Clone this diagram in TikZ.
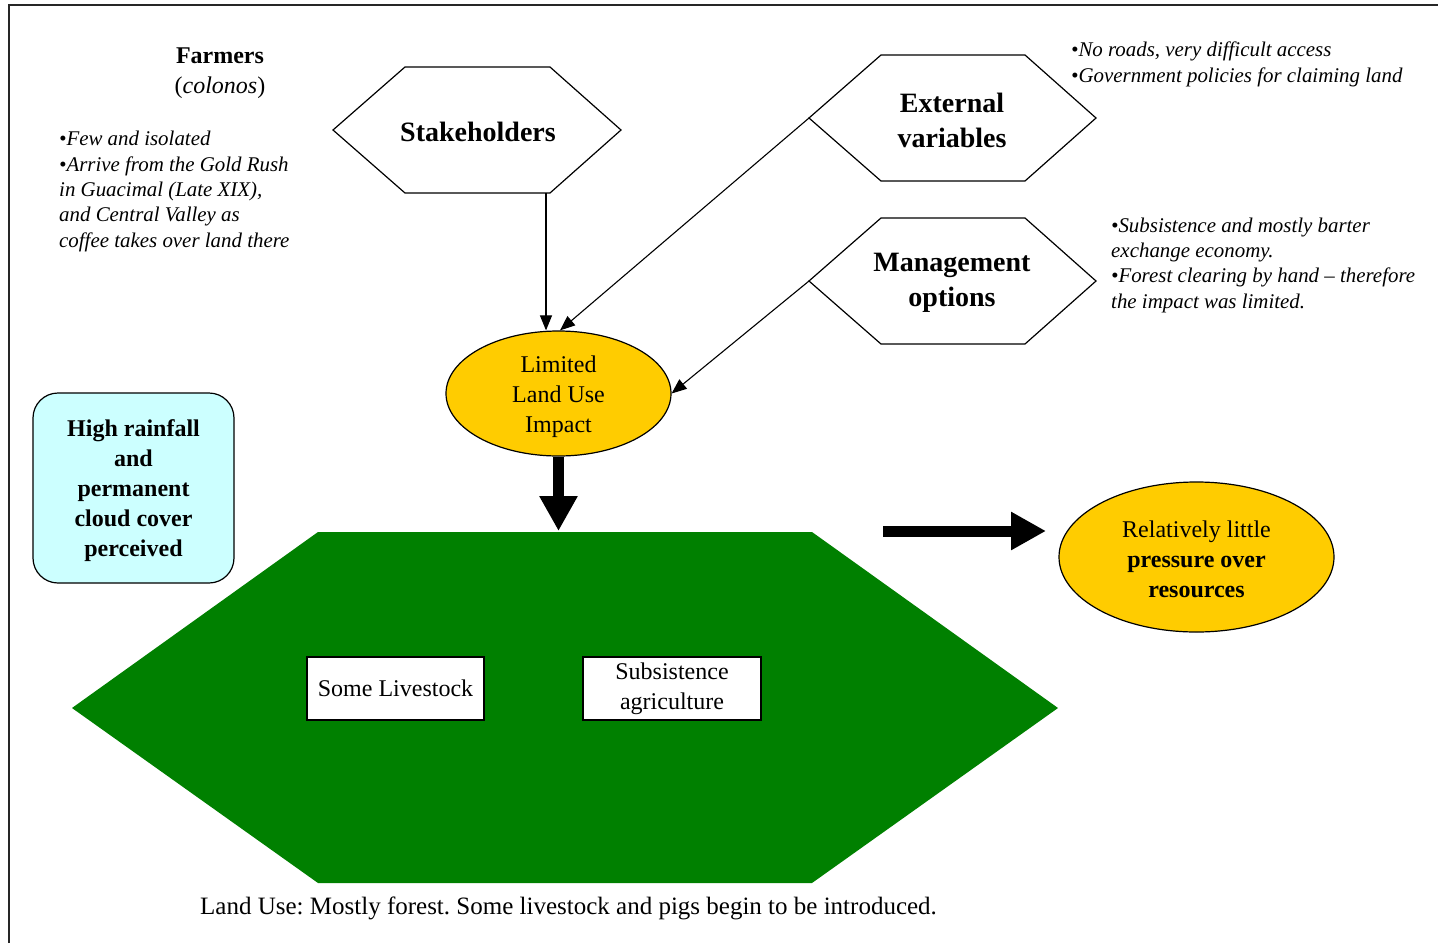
\documentclass[tikz,border=0pt]{standalone}
\usepackage{fontspec}
\setmainfont{Liberation Serif}
\usetikzlibrary{arrows.meta,shapes.geometric}
\definecolor{forestgreen}{HTML}{008000}
\definecolor{goldfill}{HTML}{FFCC00}
\definecolor{paleblue}{HTML}{CCFFFF}
\frenchspacing
\tikzset{
  hexbox/.style={draw=black, line width=1.2pt, fill=white, line join=miter},
  hextext/.style={font=\fontsize{28}{35}\selectfont\bfseries, align=center, inner sep=0pt},
  notetext/.style={font=\fontsize{20.9}{25.3}\selectfont\itshape, align=left, inner sep=0pt, anchor=base west},
  headtext/.style={font=\fontsize{24}{30}\selectfont, inner sep=0pt, anchor=base},
  inlabel/.style={inner sep=0pt, align=center, font=\fontsize{24}{30}\selectfont},
  thinarrow/.style={draw=black, line width=1.1pt, -{Triangle[length=15pt,width=12pt]}},
  fatarrow/.style={draw=black, line width=11pt, -{Triangle[length=35pt,width=36pt]}},
  ovalnode/.style={ellipse, draw=black, line width=1.2pt, fill=goldfill, inner sep=0pt},
  whitebox/.style={rectangle, draw=black, line width=1.2pt, fill=white, inner sep=0pt,
    align=center, font=\fontsize{24}{30}\selectfont},
  rainbox/.style={rectangle, rounded corners=25pt, draw=black, line width=1.2pt, fill=paleblue,
    inner sep=0pt, minimum width=201pt, minimum height=190pt}
}
\begin{document}
\begin{tikzpicture}[x=1pt,y=-1pt]
\useasboundingbox (0,0) rectangle (1438,943);
% frame
\draw[line width=1.6pt, black!85] (9,943) -- (9,5) -- (1438,5);

% Farmers text
\node[headtext, font=\fontsize{24}{30}\selectfont\bfseries] (farm) at (220,63) {Farmers};
\node[headtext] (colon) at (220,93) {(\textit{colonos})};
\node[notetext] (farmnote) at (59,247) {\textbullet Few and isolated\\\textbullet Arrive from the Gold Rush\\in Guacimal (Late XIX),\\and Central Valley as\\coffee takes over land there};

% hexagons
\draw[hexbox] (333,130) -- (405,67) -- (550,67) -- (621,130) -- (550,193) -- (405,193) -- cycle;
\node[hextext] (stk) at (478,132) {Stakeholders};
\coordinate (stkB) at (546,193);

\draw[hexbox] (809,118) -- (881,55) -- (1025,55) -- (1096,118) -- (1025,181) -- (881,181) -- cycle;
\node[hextext] (ext) at (952,120) {External\\variables};
\coordinate (extW) at (809,118);

\draw[hexbox] (809,281) -- (881,218) -- (1025,218) -- (1096,281) -- (1025,344) -- (881,344) -- cycle;
\node[hextext] (mgt) at (952,283) {Management\\options};
\coordinate (mgtW) at (809,281);

\node[notetext] (extnote) at (1071,82) {\textbullet No roads, very difficult access\\\textbullet Government policies for claiming land};
\node[notetext] (mgtnote) at (1111,308) {\textbullet Subsistence and mostly barter\\exchange economy.\\\textbullet Forest clearing by hand -- therefore\\the impact was limited.};

% limited land use ellipse
\node[ovalnode, minimum width=225pt, minimum height=125pt] (lim) at (558.5,393.5) {};
\node[inlabel] (limtext) at ([yshift=-3pt]lim.center) {Limited\\Land Use\\Impact};

\draw[thinarrow] (stkB) -- (stkB |- lim.north);
\draw[thinarrow] (extW) -- ([xshift=1.5pt]lim.north);
\draw[thinarrow] (mgtW) -- (lim.east);

% rain box
\node[rainbox] (rain) at (133.5,488) {};
\node[inlabel, font=\fontsize{24}{30}\selectfont\bfseries] (raintext) at ([yshift=-3pt]rain.center) {High rainfall\\and\\permanent\\cloud cover\\perceived};

% green hexagon
\fill[forestgreen] (72,708) -- (318,532) -- (812,532) -- (1058,708) -- (812,883) -- (318,883) -- cycle;
\coordinate (landtop) at (558.5,531);

\draw[fatarrow] (lim.south) -- (landtop);

\node[whitebox, minimum width=177pt, minimum height=63pt] (live) at (395.5,688.5) {Some Livestock};
\node[whitebox, minimum width=178pt, minimum height=63pt] (subs) at (672,688.5) {Subsistence\\agriculture};

% pressure ellipse
\node[ovalnode, minimum width=275pt, minimum height=150pt] (press) at (1196.5,557) {};
\node[inlabel] (presstext) at ([yshift=-2pt]press.center) {Relatively little\\\textbf{pressure over}\\\textbf{resources}};
\coordinate (arrstart) at (883,531);
\coordinate (arrend) at (1046,531);
\draw[fatarrow] (arrstart) -- (arrend);

\node[headtext, anchor=base west, font=\fontsize{25}{30}\selectfont] (caption) at (200,914) {Land Use: Mostly forest. Some livestock and pigs begin to be introduced.};
\end{tikzpicture}
\end{document}
